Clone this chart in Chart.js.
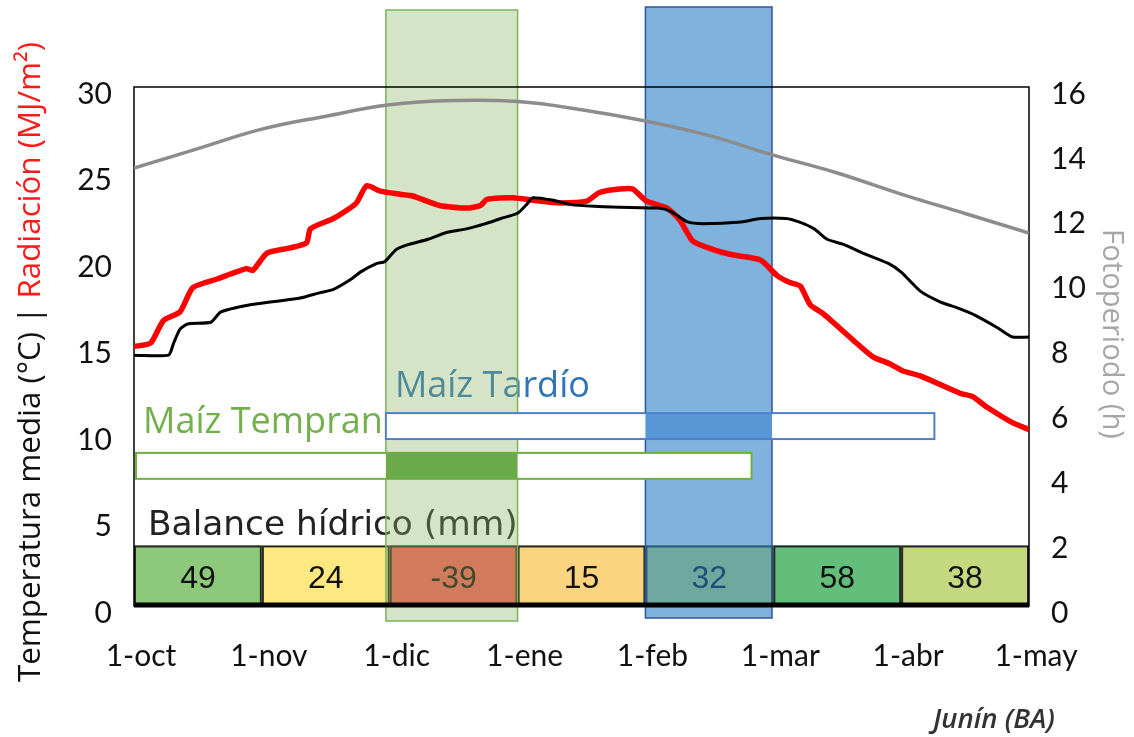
<!DOCTYPE html>
<html><head><meta charset="utf-8">
<script src="https://cdn.jsdelivr.net/npm/chart.js@4/dist/chart.umd.min.js"></script>
<style>html,body{margin:0;padding:0;background:#fff}#wrap{width:1134px;height:737px;position:relative}</style>
</head><body><div id="wrap"><canvas id="c"></canvas></div>
<script>
// ---- data (x in months from 1-oct) ----
const monthLabels = ['1-oct','1-nov','1-dic','1-ene','1-feb','1-mar','1-abr','1-may'];
const leftTickValues = [0,5,10,15,20,25,30];
const rightTickValues = [0,2,4,6,8,10,12,14,16];

const tempX = [0,0.27,0.31,0.36,0.42,0.6,0.68,0.9,1.1,1.3,1.45,1.56,1.7,1.77,1.9,1.96,2.05,2.15,2.3,2.45,2.6,2.75,2.87,3.0,3.07,3.12,3.28,3.42,3.6,3.8,4.1,4.2,4.33,4.45,4.75,4.9,5.1,5.2,5.32,5.42,5.55,5.7,5.9,6.0,6.15,6.3,6.45,6.58,6.75,6.87,7.0];
const tempY = [14.5,14.5,15.2,16.0,16.3,16.4,17.0,17.4,17.6,17.8,18.1,18.3,18.9,19.3,19.8,19.9,20.6,20.9,21.2,21.6,21.8,22.1,22.4,22.7,23.2,23.6,23.45,23.2,23.1,23.05,23.0,22.8,22.2,22.1,22.2,22.4,22.4,22.2,21.8,21.2,20.9,20.4,19.8,19.3,18.2,17.6,17.2,16.8,16.1,15.55,15.55];

const radX = [0,0.13,0.23,0.36,0.46,0.65,0.88,0.93,1.04,1.22,1.35,1.38,1.56,1.67,1.74,1.82,1.92,2.08,2.18,2.39,2.6,2.71,2.76,2.96,3.18,3.33,3.54,3.64,3.8,3.9,4.01,4.17,4.27,4.37,4.53,4.68,4.9,5.03,5.13,5.21,5.29,5.39,5.62,5.78,5.91,6.01,6.15,6.46,6.56,6.67,6.87,7.0];
const radY = [15.0,15.2,16.5,17.0,18.4,18.9,19.5,19.4,20.4,20.7,21.0,21.8,22.4,22.9,23.3,24.3,24.0,23.8,23.7,23.15,23.0,23.15,23.5,23.6,23.4,23.3,23.4,23.9,24.1,24.1,23.4,23.0,22.3,21.1,20.6,20.3,20.0,19.1,18.7,18.5,17.4,16.9,15.4,14.4,14.0,13.6,13.3,12.3,12.1,11.5,10.6,10.2];

const photoX = [0,0.5,1,1.5,2,2.5,3,3.5,4,4.5,5,5.5,6,6.5,7];
const photoY = [13.5,14.1,14.7,15.1,15.45,15.58,15.55,15.3,14.95,14.5,13.9,13.35,12.7,12.1,11.5];

const balanceValues = [49,24,-39,15,32,58,38];
const balanceColors = ['#8dc97a','#fde882','#fa5c58','#fbd480','#d9e76b','#63be7b','#c4d880'];
const balanceTop = 3.5;

const cropNames = ['Maíz Temprano','Maíz Tardío'];
const cropStart = [0.016, 1.97];
const cropEnd = [4.83, 6.26];
const cropRow = [8.1, 10.4];
const criticalStart = [1.97, 4.0];
const criticalEnd = [3.0, 4.99];
const cropColors = ['#70ad47','#4f81c9'];
const cropTextColors = ['#72b04c','#2e75b6'];
const criticalFill = ['#6aaa48','#5896d6'];
const bandFill = ['rgba(139,178,100,0.36)','rgba(34,122,195,0.58)'];
const bandStroke = ['#7ab55c','#2f5597'];

function pts(xs, ys){ return xs.map((v,i)=>({x:v, y:ys[i]})); }

function fitFont(ctx, text, target, family, style){
  ctx.font = (style||'') + ' 100px ' + family;
  const w = ctx.measureText(text).width;
  return 100 * target / w;
}

const overlay = {
  id:'overlay',
  beforeDatasetsDraw(chart){
    const {ctx, chartArea:a, scales:{x, y}} = chart;
    ctx.save();
    // Balance boxes
    const yt = y.getPixelForValue(balanceTop), yb = y.getPixelForValue(0);
    for (let i=0;i<balanceValues.length;i++){
      const x0 = x.getPixelForValue(i), x1 = x.getPixelForValue(i+1);
      ctx.fillStyle = balanceColors[i];
      ctx.fillRect(x0, yt, x1-x0, yb-yt);
      ctx.strokeStyle = '#262626'; ctx.lineWidth = 2;
      ctx.strokeRect(x0+1, yt+1, x1-x0-2, yb-yt-2);
      ctx.fillStyle = '#111';
      ctx.font = '32px "Liberation Sans", Arial, sans-serif';
      ctx.textAlign = 'center'; ctx.textBaseline = 'middle';
      ctx.fillText(String(balanceValues[i]), (x0+x1)/2, (yt+yb)/2 + 3);
    }
    ctx.fillStyle = '#222';
    const bfs = fitFont(ctx, 'Balance hídrico (mm)', 370, '"DejaVu Sans", sans-serif');
    ctx.font = bfs.toFixed(1) + 'px "DejaVu Sans", sans-serif';
    ctx.textAlign = 'left'; ctx.textBaseline = 'alphabetic';
    ctx.fillText('Balance hídrico (mm)', a.left + 14, yt - 10);

    // crop labels (text box ends where the critical period band starts)
    for (let i=0;i<cropNames.length;i++){
      const top = y.getPixelForValue(cropRow[i] + 0.75);
      const lx = x.getPixelForValue(cropStart[i]) + (i===0?7:9);
      ctx.save();
      if (i===0){ ctx.beginPath(); ctx.rect(a.left, a.top, x.getPixelForValue(criticalStart[0]) - a.left, a.bottom-a.top); ctx.clip(); }
      ctx.fillStyle = cropTextColors[i];
      ctx.font = '36px "Open Sans", sans-serif';
      ctx.fillText(cropNames[i], lx, top - (i===0?20:16));
      ctx.restore();
    }
    // critical-period bands
    for (let i=0;i<criticalStart.length;i++){
      const x0 = x.getPixelForValue(criticalStart[i]), x1 = x.getPixelForValue(criticalEnd[i]);
      const t = a.top - (i===0?77:80), b = a.bottom + (i===0?15:12);
      ctx.fillStyle = bandFill[i];
      ctx.fillRect(x0, t, x1-x0, b-t);
      ctx.strokeStyle = bandStroke[i]; ctx.lineWidth = 1.5;
      ctx.strokeRect(x0, t, x1-x0, b-t);
    }
    // crop cycle bars
    for (let i=0;i<cropNames.length;i++){
      const x0 = x.getPixelForValue(cropStart[i]), x1 = x.getPixelForValue(cropEnd[i]);
      const t = y.getPixelForValue(cropRow[i] + 0.75), b = y.getPixelForValue(cropRow[i] - 0.75);
      ctx.fillStyle = '#fff';
      ctx.fillRect(x0, t, x1-x0, b-t);
      const c0 = x.getPixelForValue(criticalStart[i]), c1 = x.getPixelForValue(criticalEnd[i]);
      ctx.fillStyle = criticalFill[i];
      ctx.fillRect(c0, t, c1-c0, b-t);
      ctx.strokeStyle = cropColors[i]; ctx.lineWidth = 2;
      ctx.strokeRect(x0, t, x1-x0, b-t);
    }
    // frame
    ctx.strokeStyle = '#000'; ctx.lineWidth = 1.5;
    ctx.strokeRect(a.left, a.top, a.right-a.left, a.bottom-a.top);
    ctx.lineWidth = 5;
    ctx.beginPath(); ctx.moveTo(a.left, a.bottom-1); ctx.lineTo(a.right, a.bottom-1); ctx.stroke();
    ctx.restore();
  },
  afterDraw(chart){
    const {ctx} = chart;
    ctx.save();
    // left title
    const p1 = 'Temperatura media (°C) | ', p2 = 'Radiación (MJ/m²)';
    const fs = fitFont(ctx, p1+p2, 641, '"Open Sans", sans-serif');
    ctx.font = fs.toFixed(1) + 'px "Open Sans", sans-serif';
    const w1 = ctx.measureText(p1).width, wt = ctx.measureText(p1+p2).width;
    ctx.translate(31, 362); ctx.rotate(-Math.PI/2);
    ctx.textAlign = 'left'; ctx.textBaseline = 'middle';
    ctx.fillStyle = '#111'; ctx.fillText(p1, -wt/2, 0);
    ctx.fillStyle = '#ff1a1a'; ctx.fillText(p2, -wt/2 + w1, 0);
    ctx.restore();
    ctx.save();
    const t3 = 'Fotoperiodo (h)';
    const fs2 = fitFont(ctx, t3, 210, '"Open Sans", sans-serif');
    ctx.font = fs2.toFixed(1) + 'px "Open Sans", sans-serif';
    ctx.translate(1111, 334); ctx.rotate(Math.PI/2);
    ctx.textAlign = 'center'; ctx.textBaseline = 'middle';
    ctx.fillStyle = '#a6a6a6'; ctx.fillText(t3, 0, 0);
    ctx.restore();
    ctx.save();
    const fs3 = fitFont(ctx, 'Junín (BA)', 122, '"Open Sans", sans-serif', 'italic 600');
    ctx.font = 'italic 600 ' + fs3.toFixed(1) + 'px "Open Sans", sans-serif';
    ctx.fillStyle = '#333'; ctx.textAlign = 'left'; ctx.textBaseline = 'alphabetic';
    ctx.fillText('Junín (BA)', 933, 728);
    ctx.restore();
  }
};

const tickFont = {family:'Lato, "Open Sans", sans-serif', size:30};
new Chart(document.getElementById('c'), {
  type:'line',
  data:{
    datasets:[
      {label:'Fotoperiodo', data:pts(photoX, photoY), yAxisID:'y2', borderColor:'#8c8c8c', borderWidth:3.5, pointRadius:0, tension:0.4},
      {label:'Temperatura', data:pts(tempX, tempY), yAxisID:'y', borderColor:'#000', borderWidth:3, pointRadius:0, tension:0.2},
      {label:'Radiación', data:pts(radX, radY), yAxisID:'y', borderColor:'#ff0000', borderWidth:5.5, pointRadius:0, tension:0.2}
    ]
  },
  options:{
    responsive:true, maintainAspectRatio:false, animation:false,
    layout:{padding:{top:87,left:0,right:0,bottom:0}},
    plugins:{legend:{display:false}, tooltip:{enabled:false}},
    scales:{
      x:{type:'linear', min:0, max:7, grid:{display:false, drawTicks:false}, border:{display:false},
         afterBuildTicks:s=>{ s.ticks = monthLabels.map((_,i)=>({value:i})); },
         ticks:{font:tickFont, color:'#111', padding:32, labelOffset:7, maxRotation:0, autoSkip:false,
                callback:(v)=>monthLabels[v]},
         afterFit:s=>{ s.height = 131; }},
      y:{position:'left', min:0, max:30, grid:{display:false, drawTicks:false}, border:{display:false},
         afterBuildTicks:s=>{ s.ticks = leftTickValues.map(v=>({value:v})); },
         ticks:{font:tickFont, color:'#111', padding:22, labelOffset:7},
         afterFit:s=>{ s.width = 134; }},
      y2:{position:'right', min:0, max:16, grid:{display:false, drawTicks:false}, border:{display:false},
         afterBuildTicks:s=>{ s.ticks = rightTickValues.map(v=>({value:v})); },
         ticks:{font:tickFont, color:'#111', padding:22, labelOffset:7},
         afterFit:s=>{ s.width = 105; }}
    }
  },
  plugins:[overlay]
});
</script></body></html>
